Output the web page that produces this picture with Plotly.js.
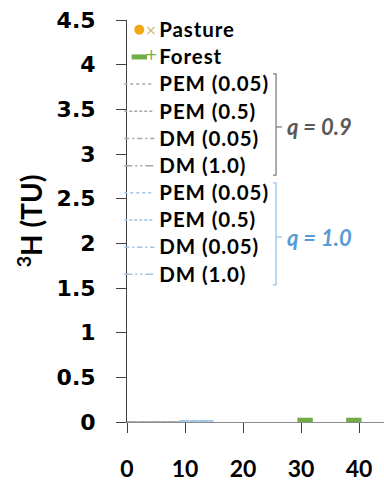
<!DOCTYPE html>
<html><head><meta charset="utf-8">
<script src="https://cdn.plot.ly/plotly-3.0.1.min.js"></script>
<style>html,body{margin:0;padding:0;background:#fff}#chart{width:384px;height:481px}
#chart text.legendtext{font-size:20.5px !important;letter-spacing:0.9px}
#chart .legend .scrollbox{clip-path:none !important}</style>
</head><body><div id="chart"></div>
<script>
// ---- data ----
const pastureX = [null];   // no pasture point falls inside the plotted range
const pastureY = [null];
const forestX = [30.7, 39.1];
const forestY = [0.02, 0.02];

const modelNames = ["PEM (0.05)", "PEM (0.5)", "DM (0.05)", "DM (1.0)"];
const modelDash = ["dot", "3px,2px", "5px,3px,2px,3px", "8px,3px,2px,3px,2px,3px"];
// q = 0.9 model curves (all close to zero over the plotted range)
const q09X = [0, 3, 6, 9];
const q09Y = [
  [0.00, 0.00, 0.00, 0.00],
  [0.00, 0.00, 0.00, 0.00],
  [0.00, 0.00, 0.00, 0.00],
  [0.00, 0.00, 0.00, 0.00]
];
// q = 1.0 model curves
const q10X = [9, 11, 13, 15];
const q10Y = [
  [0.01, 0.01, 0.01, 0.01],
  [0.01, 0.01, 0.01, 0.01],
  [0.01, 0.01, 0.01, 0.01],
  [0.01, 0.01, 0.01, 0.01]
];
const yTicks = [0, 0.5, 1, 1.5, 2, 2.5, 3, 3.5, 4, 4.5];
const yTickText = ["0", "0.5", "1", "1.5", "2", "2.5", "3", "3.5", "4", "4.5"];
const xTicks = [0, 10, 20, 30, 40];

const grayLine = "#a6a6a6";
const blueLine = "#9dc3e6";

const traces = [
  {name: "Pasture", x: pastureX, y: pastureY, type: "scatter", mode: "markers",
   marker: {symbol: "circle", size: 10, color: "#f2a90f"}},
  {name: "Forest", x: forestX, y: forestY, type: "scatter", mode: "markers",
   marker: {symbol: "line-ew", size: 11, color: "#70ad47", line: {color: "#70ad47", width: 5}}}
];
modelNames.forEach((n, i) => traces.push({name: n, x: q09X, y: q09Y[i], type: "scatter", mode: "lines",
  line: {color: grayLine, width: 1.5, dash: modelDash[i]}}));
modelNames.forEach((n, i) => traces.push({name: n, x: q10X, y: q10Y[i], type: "scatter", mode: "lines",
  line: {color: blueLine, width: 1.5, dash: modelDash[i]}}));

const gray = "#7f7f7f", grayText = "#595959", blue = "#9dc3e6", blueText = "#5b9bd5";
const layout = {
  width: 384, height: 481,
  margin: {l: 127, r: 0, t: 20, b: 59},
  paper_bgcolor: "#fff", plot_bgcolor: "#fff",
  showlegend: true,
  legend: {x: -0.03, y: 1.022, xanchor: "left", yanchor: "top", bgcolor: "rgba(0,0,0,0)",
    font: {family: "Lato, sans-serif", size: 18.6, color: "#000", weight: "bold"},
    traceorder: "normal", itemwidth: 30, maxheight: 470},
  xaxis: {range: [0, 44.3], tickvals: xTicks, ticks: "outside", ticklen: 10, tickcolor: "#404040",
    showline: true, linecolor: "#8c8c8c", linewidth: 1, showgrid: false, zeroline: false,
    ticklabelstandoff: 16,
    tickfont: {family: "Lato, sans-serif", size: 23, color: "#000", weight: "bold"}},
  yaxis: {range: [0, 4.5], tickvals: yTicks, ticktext: yTickText, ticks: "outside", ticklen: 10, tickcolor: "#404040",
    showline: true, linecolor: "#404040", linewidth: 1, showgrid: false, zeroline: false,
    ticklabelstandoff: 16,
    tickfont: {family: "DejaVu Sans, sans-serif", size: 22, color: "#000", weight: "bold"},
    title: {text: "<sup>3</sup>H (TU)", standoff: 5,
      font: {family: "Lato, sans-serif", size: 28, color: "#000", weight: "bold"}}},
  shapes: [
    {type: "path", xref: "paper", yref: "paper", path: "M0.568,0.866 H0.580 V0.614 H0.568", line: {color: gray, width: 1.3}},
    {type: "line", xref: "paper", yref: "paper", x0: 0.580, x1: 0.603, y0: 0.734, y1: 0.734, line: {color: gray, width: 1.3}},
    {type: "path", xref: "paper", yref: "paper", path: "M0.568,0.595 H0.580 V0.341 H0.568", line: {color: blue, width: 1.3}},
    {type: "line", xref: "paper", yref: "paper", x0: 0.580, x1: 0.603, y0: 0.460, y1: 0.460, line: {color: blue, width: 1.3}}
  ],
  annotations: [
    {xref: "paper", yref: "paper", x: 0.615, y: 0.734, xanchor: "left", yanchor: "middle", showarrow: false,
     text: "<i>q</i> = <i>0.9</i>", font: {family: "Lato, sans-serif", size: 22, color: grayText, weight: "bold", style: "italic"}},
    {xref: "paper", yref: "paper", x: 0.615, y: 0.460, xanchor: "left", yanchor: "middle", showarrow: false,
     text: "<i>q</i> = <i>1.0</i>", font: {family: "Lato, sans-serif", size: 22, color: blueText, weight: "bold", style: "italic"}},
    {xref: "paper", yref: "paper", x: 0.093, y: 0.975, xanchor: "center", yanchor: "middle", showarrow: false,
     text: "×", font: {family: "DejaVu Sans, sans-serif", size: 14, color: "#d6b46a"}},
    {xref: "paper", yref: "paper", x: 0.097, y: 0.913, xanchor: "center", yanchor: "middle", showarrow: false,
     text: "+", font: {family: "DejaVu Sans, sans-serif", size: 15, color: "#70ad47"}}
  ]
};
Plotly.newPlot("chart", traces, layout, {staticPlot: true, displayModeBar: false});
</script></body></html>
